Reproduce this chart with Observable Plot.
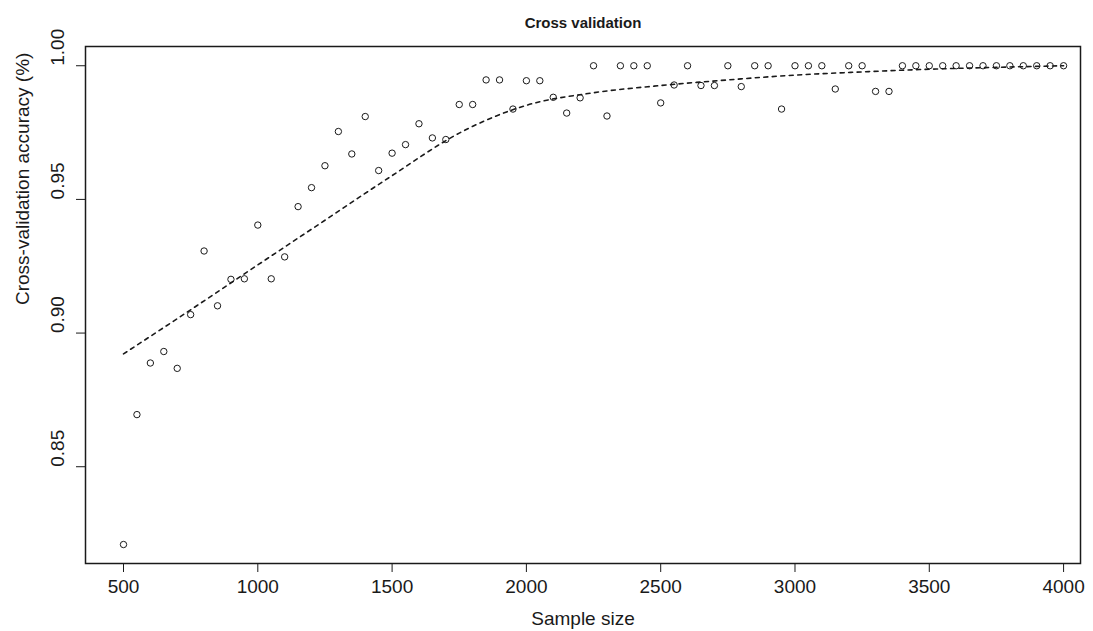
<!DOCTYPE html>
<html>
<head>
<meta charset="utf-8">
<script src="https://cdn.jsdelivr.net/npm/d3@7"></script>
<script src="https://cdn.jsdelivr.net/npm/@observablehq/plot@0.6"></script>
<style>
  html, body { margin: 0; padding: 0; background: #fff; }
  #chart svg { display: block; }
</style>
</head>
<body>
<div id="chart"></div>
<script>
const sampleSize = [500, 550, 600, 650, 700, 750, 800, 850, 900, 950,
  1000, 1050, 1100, 1150, 1200, 1250, 1300, 1350, 1400, 1450,
  1500, 1550, 1600, 1650, 1700, 1750, 1800, 1850, 1900, 1950,
  2000, 2050, 2100, 2150, 2200, 2250, 2300, 2350, 2400, 2450,
  2500, 2550, 2600, 2650, 2700, 2750, 2800, 2850, 2900, 2950,
  3000, 3050, 3100, 3150, 3200, 3250, 3300, 3350, 3400, 3450,
  3500, 3550, 3600, 3650, 3700, 3750, 3800, 3850, 3900, 3950, 4000];
const accuracy = [0.8209, 0.8695, 0.8888, 0.8931, 0.8868, 0.9069, 0.9307, 0.9102, 0.9201, 0.9203,
  0.9404, 0.9203, 0.9285, 0.9473, 0.9544, 0.9626, 0.9754, 0.9670, 0.9810, 0.9608,
  0.9673, 0.9705, 0.9783, 0.9730, 0.9724, 0.9855, 0.9855, 0.9947, 0.9947, 0.9838,
  0.9944, 0.9944, 0.9882, 0.9823, 0.9880, 1.0000, 0.9812, 1.0000, 1.0000, 1.0000,
  0.9861, 0.9928, 1.0000, 0.9926, 0.9926, 1.0000, 0.9922, 1.0000, 1.0000, 0.9838,
  1.0000, 1.0000, 1.0000, 0.9913, 1.0000, 1.0000, 0.9904, 0.9904, 1.0000, 1.0000,
  1.0000, 1.0000, 1.0000, 1.0000, 1.0000, 1.0000, 1.0000, 1.0000, 1.0000, 1.0000, 1.0000];

// fitted (dashed) curve
const fitX = [500, 750, 1000, 1250, 1500, 1750, 2000, 2250, 2500, 2750, 3000, 3250, 3500, 3750, 4000];
const fitY = [0.8922, 0.9087, 0.9255, 0.9422, 0.9589, 0.9748, 0.9852, 0.9899, 0.9926, 0.9947, 0.9965, 0.9977, 0.9987, 0.9994, 1.0000];

const xTicks = [500, 1000, 1500, 2000, 2500, 3000, 3500, 4000];
const yTicks = [0.85, 0.90, 0.95, 1.00];

const titleText = "Cross validation";
const xLabel = "Sample size";
const yLabel = "Cross-validation accuracy (%)";

const points = sampleSize.map((s, i) => ({s, a: accuracy[i]}));
const fit = fitX.map((s, i) => ({s, a: fitY[i]}));

const ink = "#1a1a1a";
const chart = Plot.plot({
  width: 1093,
  height: 631,
  marginLeft: 85,
  marginRight: 13,
  marginTop: 46,
  marginBottom: 68,
  style: {fontFamily: "'Liberation Sans', Arial, Helvetica, sans-serif", fontSize: "19px", color: ink, background: "#fff"},
  x: {domain: [358.5, 4063]},
  y: {domain: [0.8138, 1.0072]},
  marks: [
    Plot.line(fit, {x: "s", y: "a", stroke: ink, strokeWidth: 1.6, strokeDasharray: "4,4.5", curve: "monotone-x"}),
    Plot.dot(points, {x: "s", y: "a", r: 3.2, stroke: ink, strokeWidth: 1, fill: "none"}),
    Plot.frame({stroke: ink, strokeWidth: 1.5}),
    Plot.axisX({ticks: xTicks, tickSize: 9, tickPadding: 7, tickFormat: d => String(d), label: null, stroke: ink, fontSize: 19}),
    Plot.axisY({ticks: yTicks, tickSize: 9, tickFormat: () => "", label: null, stroke: ink}),
    Plot.text(yTicks, {y: d => d, frameAnchor: "left", dx: -28, rotate: -90, text: d => d3.format(".2f")(d), fontSize: 19, fill: ink}),
    Plot.text([titleText], {frameAnchor: "top", dy: -29, fontWeight: "bold", fontSize: 15, fill: ink}),
    Plot.text([xLabel], {frameAnchor: "bottom", dy: 61, fontSize: 19, fill: ink}),
    Plot.text([yLabel], {frameAnchor: "left", dx: -63, rotate: -90, fontSize: 19, fill: ink})
  ]
});
document.getElementById("chart").appendChild(chart);
</script>
</body>
</html>
